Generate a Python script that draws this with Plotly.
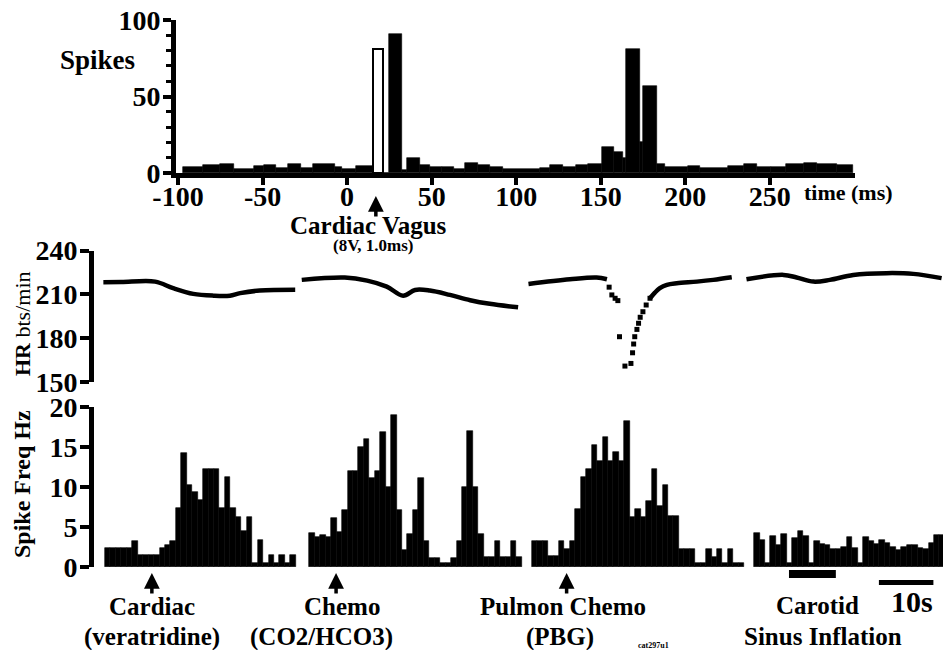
import plotly.graph_objects as go

# ---------------- DATA ----------------
# Top: peri-stimulus histogram (ms bins, spike counts)
top_edges = [-97, -85, -75, -67, -55, -49, -42, -35, -27, -20, -7, -3, 5, 15.5, 21.5, 25, 32.5, 35.5, 43, 49,
             56, 63, 70, 77.5, 84.5, 92, 114, 120, 127.5, 135.5, 142.5, 151, 158, 163, 165, 173, 175, 183, 188, 201.5,
             208.5, 225.5, 234.5, 242.5, 250.5, 259.5, 270, 278, 290, 299]
top_counts = [4, 5, 6, 2.5, 4.5, 5, 3.5, 6, 3.5, 6, 4, 2.5, 4.5, 0, 0, 91, 2, 10, 5.4, 3.7,
              3.9, 2.8, 6.8, 5, 3.9, 2.6, 3.3, 5, 3.9, 5, 5.7, 17, 14, 10, 81, 20, 57, 6, 3.9,
              4.4, 3.3, 4.8, 5.7, 3.7, 3.9, 5.7, 6.8, 5.7, 5]
stim_bin_start = 15.5
stim_bin_end = 21.5
stim_bin_count = 81
vagus_stim_ms = 17
top_xticks = [-100, -50, 0, 50, 100, 150, 200, 250]
top_xticklabels = ["-100", "-50", "0", "50", "100", "150", "200", "250"]
top_yticks = [0, 50, 100]

# Middle: heart rate (time in s, bts/min), four recordings
hr_seg1_t = [-0.3, 3.0, 9.2, 12.5, 16.2, 19.9, 22.9, 24.8, 28.4, 34.9]
hr_seg1_v = [218.3, 218.4, 218.7, 214.2, 210.3, 209.1, 209.1, 210.8, 212.6, 213.2]
hr_seg2_t = [36.1, 44.0, 48.1, 51.7, 54.7, 56.9, 59.6, 63.3, 67.0, 70.6, 75.8]
hr_seg2_v = [219.9, 221.5, 219.4, 215.3, 209.1, 213.0, 212.6, 209.6, 206.0, 203.5, 201.1]
hr_seg3a_t = [77.7, 85.3, 90.2, 92.1]
hr_seg3a_v = [217.1, 220.3, 221.5, 220.3]
hr_dip_t = [92.5, 93.0, 93.6, 94.1, 94.4, 95.4, 96.5, 96.8, 97.0, 97.2, 97.6, 97.9, 98.2, 98.7, 99.3, 100.0]
hr_dip_v = [214.9, 209.6, 207.3, 205.7, 181.0, 160.9, 162.7, 170.0, 176.0, 181.0, 186.0, 190.2, 194.3, 198.1, 202.7, 207.3]
hr_seg3b_t = [100.0, 100.9, 101.8, 103.1, 104.9, 108.6, 111.6, 115.0]
hr_seg3b_v = [207.3, 211.2, 214.2, 216.5, 217.6, 218.7, 219.9, 221.7]
hr_seg4_t = [117.7, 124.5, 126.9, 130.0, 133.0, 137.3, 143.4, 148.3, 153.5]
hr_seg4_v = [220.3, 223.3, 221.5, 218.7, 219.9, 223.3, 224.5, 224.0, 221.1]
hr_yticks = [150, 180, 210, 240]

# Bottom: spike frequency (Hz), 1 s bins, four recordings
seg_starts = [0, 37.5, 78.3, 119.1]
seg1_hz = [2.4, 2.4, 2.4, 2.4, 2.4, 3.3, 1.5, 1.5, 1.5, 1.5, 2.4, 2.8, 3.3, 7.4, 14.3, 10.3, 9.4, 8.4, 12.3, 12.3,
           12.3, 7.4, 11.3, 7.4, 6.3, 4.5, 6.3, 0.5, 3.4, 0.5, 1.5, 0.5, 1.5, 0.5, 1.5]
seg2_hz = [4.3, 3.8, 4.0, 3.8, 6.1, 4.4, 7.1, 12, 12, 15, 16, 11.1, 12, 16.9, 10, 19, 7.1, 2.1, 4.1, 7.1,
           11.1, 3.2, 1.1, 1.1, 0.5, 0.5, 1.1, 3.2, 10, 17, 10, 4.1, 1.2, 1.2, 3.2, 1.2, 1.2, 3.2, 1.2]
seg3_hz = [3.3, 3.3, 3.3, 1.4, 1.4, 3.3, 2.3, 3.3, 7.3, 11.3, 12.2, 15.3, 13.3, 16.2, 13.3, 14.4, 13.3, 18.2, 6.3, 7.3,
           6.3, 8.3, 12.3, 7.6, 10.3, 6.4, 6.4, 2.3, 2.3, 2.3, 0.5, 0.5, 2.3, 1.3, 2.3, 0.5, 2.3, 0.5, 0.5]
seg4_hz = [4.3, 3.4, 0.5, 3.9, 2.75, 4.1, 0.5, 3.6, 4.5, 3.9, 0.5, 3.25, 2.9, 2.7, 2.2, 2.2, 2.5, 3.7, 2.4, 0.5,
           3.7, 3.25, 2.9, 3.4, 3.0, 2.5, 2.1, 2.5, 2.7, 2.8, 2.4, 2.2, 3.0, 4.0, 4.0]
freq_yticks = [0, 5, 10, 15, 20]
stim_times = [8.6, 42.4, 84.7]
stim_labels = [("Cardiac", "(veratridine)"), ("Chemo", "(CO2/HCO3)"), ("Pulmon Chemo", "(PBG)")]
carotid_on, carotid_off = 125.5, 134.1
scale_bar_start, scale_bar_len = 142.0, 10.0

# ---------------- LAYOUT HELPERS ----------------
W, H = 943, 650
FONT = "Liberation Serif, Times New Roman, serif"
def px(p):
    return p / W
def py(p):
    return 1 - p / H

fig = go.Figure()

# Top histogram
centers = [(top_edges[i] + top_edges[i + 1]) / 2 for i in range(len(top_counts))]
widths = [top_edges[i + 1] - top_edges[i] for i in range(len(top_counts))]
fig.add_trace(go.Bar(x=centers, y=top_counts, width=widths, marker=dict(color="black", line=dict(width=0.6, color="black")),
                     xaxis="x", yaxis="y"))
fig.add_trace(go.Bar(x=[(stim_bin_start + stim_bin_end) / 2], y=[stim_bin_count], width=[stim_bin_end - stim_bin_start],
                     marker=dict(color="white", line=dict(width=2, color="black")), xaxis="x", yaxis="y"))

# HR traces
hr_line = dict(color="black", width=4.5)
for t, v in [(hr_seg1_t, hr_seg1_v), (hr_seg2_t, hr_seg2_v), (hr_seg3a_t, hr_seg3a_v),
             (hr_seg3b_t, hr_seg3b_v), (hr_seg4_t, hr_seg4_v)]:
    fig.add_trace(go.Scatter(x=t, y=v, mode="lines", line=hr_line, line_shape="spline", xaxis="x2", yaxis="y2"))
fig.add_trace(go.Scatter(x=hr_dip_t, y=hr_dip_v, mode="markers",
                         marker=dict(symbol="square", size=5, color="black"), xaxis="x2", yaxis="y2"))

# Spike frequency histograms
for start, vals in zip(seg_starts, [seg1_hz, seg2_hz, seg3_hz, seg4_hz]):
    xs = [start + i + 0.5 for i in range(len(vals))]
    fig.add_trace(go.Bar(x=xs, y=vals, width=1.0,
                         marker=dict(color="black", line=dict(width=0.6, color="black")),
                         xaxis="x3", yaxis="y3"))

# lower x range (pixels -> seconds mapping)
k = 5.45  # px per second
t_left = (94 - 105) / k
t_right = (943 - 105) / k
top_left = -100 + (176 - 178) / 1.691
top_right = -100 + (855 - 178) / 1.691

tickfont = dict(family=FONT, size=28, color="black", weight="bold")
axis_common = dict(showgrid=False, zeroline=False, showline=True, linecolor="black", linewidth=5,
                   ticks="outside", tickcolor="black", tickwidth=4, tickfont=tickfont,
                   automargin=False)

fig.update_layout(
    width=W, height=H, margin=dict(l=0, r=0, t=0, b=0, autoexpand=False),
    paper_bgcolor="white", plot_bgcolor="white", showlegend=False, bargap=0, barmode="overlay",
    xaxis=dict(domain=[px(176), px(855)], range=[top_left, top_right], anchor="y",
               tickvals=top_xticks, ticktext=top_xticklabels, ticklen=7, ticklabelstandoff=-13,
               **axis_common),
    yaxis=dict(domain=[py(173), py(20)], range=[0, 100], anchor="x", tickvals=top_yticks, ticklen=8,
               ticklabelstandoff=-3,
               minor=dict(ticks="outside", dtick=10, ticklen=5, tickwidth=3, tickcolor="black"),
               **axis_common),
    xaxis2=dict(domain=[px(94), 1], range=[t_left, t_right], anchor="y2", visible=False, automargin=False),
    yaxis2=dict(domain=[py(382), py(250.5)], range=[150, 240], anchor="x2", tickvals=hr_yticks, ticklen=9,
                ticklabelstandoff=-3, **axis_common),
    xaxis3=dict(domain=[px(94), 1], range=[t_left, t_right], anchor="y3", visible=False, automargin=False),
    yaxis3=dict(domain=[py(567), py(407)], range=[0, 20], anchor="x3", tickvals=freq_yticks, ticklen=9,
                ticklabelstandoff=-3, **axis_common),
)

ann = []
def text(x, y, s, size, xref="paper", angle=0):
    ann.append(dict(x=x, y=y, xref=xref, yref="paper", text=s, showarrow=False, textangle=angle,
                    font=dict(family=FONT, size=size, color="black"), xanchor="center", yanchor="middle"))

arrow = dict(yref="paper", ax=0, ay=22, text="", showarrow=True, arrowhead=2, arrowsize=0.9,
             arrowwidth=3.5, arrowcolor="black")

# Top panel labels
text(px(97), py(60), "<b>Spikes</b>", 27)
text(px(848), py(193), "<b>time (ms)</b>", 22)
ann.append(dict(x=vagus_stim_ms, y=py(196), xref="x", **arrow))
text(px(368), py(225), "<b>Cardiac Vagus</b>", 25)
text(px(373), py(246), "<b>(8V, 1.0ms)</b>", 17)

# Axis titles
text(px(22), py(324), "<b>HR</b> bts/min", 22, angle=-90)
text(px(22), py(484), "<b>Spike Freq Hz</b>", 24, angle=-90)

# Stimulus arrows + labels
label_x = [(152, 152), (342, 321), (563, 560)]
for t, (l1, l2), (x1, x2) in zip(stim_times, stim_labels, label_x):
    ann.append(dict(x=t, y=py(573), xref="x3", **arrow))
    text(px(x1), py(606), "<b>%s</b>" % l1, 25)
    text(px(x2), py(637), "<b>%s</b>" % l2, 25)

text(px(817), py(605), "<b>Carotid</b>", 25)
text(px(823), py(636), "<b>Sinus Inflation</b>", 25)
text(px(912), py(601), "<b>10s</b>", 30)
text(px(653), py(645), "<b>cat297u1</b>", 8)
fig.update_layout(annotations=ann)

fig.add_shape(type="rect", xref="x3", yref="paper", x0=carotid_on, x1=carotid_off, y0=py(578), y1=py(570),
              fillcolor="black", line=dict(width=0))
fig.add_shape(type="rect", xref="x3", yref="paper", x0=scale_bar_start, x1=scale_bar_start + scale_bar_len,
              y0=py(585), y1=py(580), fillcolor="black", line=dict(width=0))

fig.write_html("out.html")
